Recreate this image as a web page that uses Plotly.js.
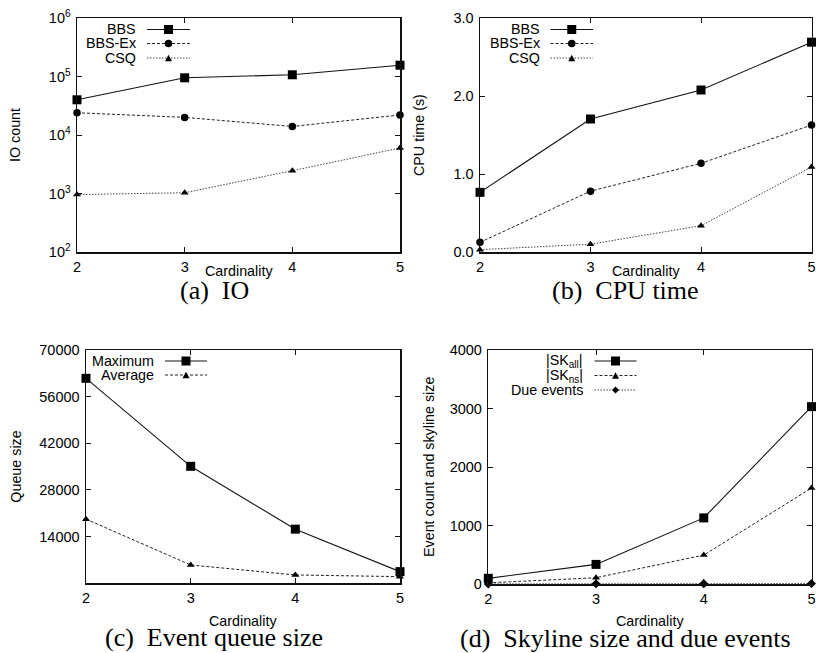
<!DOCTYPE html>
<html>
<head>
<meta charset="utf-8">
<script src="https://cdn.plot.ly/plotly-3.0.1.min.js"></script>
<style>html,body{margin:0;padding:0;background:#fff;}#chart{width:816px;height:653px;}</style>
</head>
<body>
<div id="chart"></div>
<script>
// ---------------- DATA ----------------
const cardinality = [2, 3, 4, 5];
const xTickLabels = ['2', '3', '4', '5'];

// (a) IO count
const ioSeriesNames = ['BBS', 'BBS-Ex', 'CSQ'];
const ioBBS = [40000, 95000, 107000, 156000];
const ioBBSEx = [24000, 20000, 14000, 22000];
const ioCSQ = [960, 1030, 2450, 6000];
const ioTickVals = [100, 1000, 10000, 100000, 1000000];
const ioTickText = ['10<sup>2</sup>', '10<sup>3</sup>', '10<sup>4</sup>', '10<sup>5</sup>', '10<sup>6</sup>'];

// (b) CPU time
const cpuSeriesNames = ['BBS', 'BBS-Ex', 'CSQ'];
const cpuBBS = [0.765, 1.705, 2.077, 2.69];
const cpuBBSEx = [0.124, 0.78, 1.137, 1.628];
const cpuCSQ = [0.03, 0.10, 0.337, 1.09];
const cpuTickVals = [0, 1, 2, 3];
const cpuTickText = ['0.0', '1.0', '2.0', '3.0'];

// (c) Event queue size
const queueSeriesNames = ['Maximum', 'Average'];
const queueMax = [61500, 35100, 16250, 3500];
const queueAvg = [19250, 5500, 2500, 2000];
const queueTickVals = [14000, 28000, 42000, 56000, 70000];

// (d) Skyline size and due events
const skySeriesNames = ['|SK<sub>all</sub>|', '|SK<sub>ns</sub>|', 'Due events'];
const skAll = [97, 335, 1130, 3032];
const skNs = [20, 107, 494, 1640];
const dueEvents = [2, 4, 6, 8];
const skyTickVals = [0, 1000, 2000, 3000, 4000];

const captions = ['(a)\u00A0 IO', '(b)\u00A0 CPU time', '(c)\u00A0 Event queue size', '(d)\u00A0 Skyline size and due events'];
const yTitles = ['IO count', 'CPU time (s)', 'Queue size', 'Event count and skyline size'];
const xTitle = 'Cardinality';

// ---------------- LAYOUT HELPERS ----------------
const W = 816, H = 653;
const px = v => v / W;
const py = v => 1 - v / H;

// plot boxes in pixels [left, right, top, bottom]
const boxes = [
  [77, 400, 18, 252],
  [480, 811.5, 18, 252],
  [86, 400, 350, 583.3],
  [488.3, 811.5, 350, 584]
];

const INK = '#111';
const styles = {
  solid: {dash: 'solid', color: '#111', width: 1.1},
  dashed: {dash: '3px,2px', color: '#222', width: 1},
  dotted: {dash: '1.5px,1.5px', color: '#444', width: 1}
};
const markerDefs = {
  square: {symbol: 'square', size: 9},
  circle: {symbol: 'circle', size: 7.5},
  triangle: {symbol: 'triangle-up', size: 7},
  diamond: {symbol: 'diamond', size: 7}
};

function trace(y, name, style, mk, idx) {
  const ax = idx === 0 ? '' : String(idx + 1);
  return {
    x: cardinality, y: y, name: name, type: 'scatter', mode: 'lines+markers',
    xaxis: 'x' + ax, yaxis: 'y' + ax, cliponaxis: false, showlegend: false,
    line: {dash: styles[style].dash, color: styles[style].color, width: styles[style].width},
    marker: {symbol: markerDefs[mk].symbol, size: markerDefs[mk].size, color: '#000', line: {width: 0}},
    hoverinfo: 'x+y+name'
  };
}

const data = [
  trace(ioBBS, ioSeriesNames[0], 'solid', 'square', 0),
  trace(ioBBSEx, ioSeriesNames[1], 'dashed', 'circle', 0),
  trace(ioCSQ, ioSeriesNames[2], 'dotted', 'triangle', 0),
  trace(cpuBBS, cpuSeriesNames[0], 'solid', 'square', 1),
  trace(cpuBBSEx, cpuSeriesNames[1], 'dashed', 'circle', 1),
  trace(cpuCSQ, cpuSeriesNames[2], 'dotted', 'triangle', 1),
  trace(queueMax, queueSeriesNames[0], 'solid', 'square', 2),
  trace(queueAvg, queueSeriesNames[1], 'dashed', 'triangle', 2),
  trace(skAll, skySeriesNames[0], 'solid', 'square', 3),
  trace(skNs, skySeriesNames[1], 'dashed', 'triangle', 3),
  trace(dueEvents, skySeriesNames[2], 'dotted', 'diamond', 3)
];

const SANS = 'Liberation Sans, Arial, sans-serif';
const tickFont = {family: SANS, size: 14.5, color: '#000'};

function xAxis(i) {
  const b = boxes[i];
  return {
    domain: [px(b[0]), px(b[1])], range: [2, 5], anchor: i === 0 ? 'y' : 'y' + (i + 1),
    tickvals: cardinality, ticktext: xTickLabels, ticks: 'inside', ticklen: 5, tickwidth: 1, tickcolor: INK,
    showline: true, linecolor: INK, linewidth: 1.5, mirror: 'ticks', showgrid: false, zeroline: false,
    tickfont: tickFont, ticklabelstandoff: 1, fixedrange: true
  };
}
function yAxis(i, extra) {
  const b = boxes[i];
  return Object.assign({
    domain: [py(b[3]), py(b[2])], anchor: i === 0 ? 'x' : 'x' + (i + 1),
    ticks: 'inside', ticklen: 5, tickwidth: 1, tickcolor: INK,
    showline: true, linecolor: INK, linewidth: 1.5, mirror: 'ticks', showgrid: false, zeroline: false,
    tickfont: tickFont, ticklabelstandoff: 2, fixedrange: true
  }, extra);
}

const annotations = [];
const shapes = [];
const labelFont = {family: SANS, size: 14.3, color: '#000'};
const captionFont = {family: 'Liberation Serif, Times New Roman, serif', size: 26, color: '#000'};

// axis titles and captions
const yTitleX = [15, 419, 16, 429];
const xTitleY = [271, 271, 620.5, 620.5];
const captionX = [214, 625, 214, 625];
const captionY = [290, 290, 637.5, 638.5];
boxes.forEach((b, i) => {
  const cx = (b[0] + b[1]) / 2;
  annotations.push({xref: 'paper', yref: 'paper', x: px(cx), y: py(xTitleY[i]), text: xTitle, showarrow: false,
    xanchor: 'center', yanchor: 'middle', font: labelFont});
  annotations.push({xref: 'paper', yref: 'paper', x: px(yTitleX[i]), y: py((b[2] + b[3]) / 2), text: yTitles[i],
    textangle: -90, showarrow: false, xanchor: 'center', yanchor: 'middle', font: labelFont});
  annotations.push({xref: 'paper', yref: 'paper', x: px(captionX[i]), y: py(captionY[i]), text: captions[i],
    showarrow: false, xanchor: 'center', yanchor: 'middle', font: captionFont});
});

// gnuplot-style keys: text right-aligned, then a line sample with its marker
function keyEntry(textRight, lineStart, lineEnd, y, text, style, mk) {
  annotations.push({xref: 'paper', yref: 'paper', x: px(textRight), y: py(y), text: text, showarrow: false,
    xanchor: 'right', yanchor: 'middle', font: labelFont});
  const s = styles[style];
  shapes.push({type: 'line', xref: 'paper', yref: 'paper', x0: px(lineStart), x1: px(lineEnd), y0: py(y), y1: py(y),
    line: {color: s.color, width: s.width, dash: s.dash}});
  const cx = (lineStart + lineEnd) / 2;
  const r = markerDefs[mk].size / 2;
  if (mk === 'square') {
    shapes.push({type: 'rect', xref: 'paper', yref: 'paper', x0: px(cx - r), x1: px(cx + r), y0: py(y - r), y1: py(y + r),
      fillcolor: '#000', line: {width: 0}});
  } else if (mk === 'circle') {
    shapes.push({type: 'circle', xref: 'paper', yref: 'paper', x0: px(cx - r), x1: px(cx + r), y0: py(y - r), y1: py(y + r),
      fillcolor: '#000', line: {width: 0}});
  } else if (mk === 'triangle') {
    const h = r * 0.9;
    shapes.push({type: 'path', xref: 'paper', yref: 'paper',
      path: `M ${px(cx - r)} ${py(y + h)} L ${px(cx + r)} ${py(y + h)} L ${px(cx)} ${py(y - h)} Z`,
      fillcolor: '#000', line: {width: 0}});
  } else if (mk === 'diamond') {
    shapes.push({type: 'path', xref: 'paper', yref: 'paper',
      path: `M ${px(cx - r)} ${py(y)} L ${px(cx)} ${py(y - r)} L ${px(cx + r)} ${py(y)} L ${px(cx)} ${py(y + r)} Z`,
      fillcolor: '#000', line: {width: 0}});
  }
}

keyEntry(138, 147, 190, 29.5, ioSeriesNames[0], 'solid', 'square');
keyEntry(138, 147, 190, 43.5, ioSeriesNames[1], 'dashed', 'circle');
keyEntry(138, 147, 190, 58, ioSeriesNames[2], 'dotted', 'triangle');
keyEntry(541.5, 550.5, 593, 29.5, cpuSeriesNames[0], 'solid', 'square');
keyEntry(541.5, 550.5, 593, 43.5, cpuSeriesNames[1], 'dashed', 'circle');
keyEntry(541.5, 550.5, 593, 58, cpuSeriesNames[2], 'dotted', 'triangle');
keyEntry(155.5, 165, 207, 361, queueSeriesNames[0], 'solid', 'square');
keyEntry(155.5, 165, 207, 375, queueSeriesNames[1], 'dashed', 'triangle');
keyEntry(585, 594.5, 636.5, 361, skySeriesNames[0], 'solid', 'square');
keyEntry(585, 594.5, 636.5, 375.5, skySeriesNames[1], 'dashed', 'triangle');
keyEntry(585, 594.5, 636.5, 390, skySeriesNames[2], 'dotted', 'diamond');

const layout = {
  width: W, height: H, margin: {l: 0, r: 0, t: 0, b: 0},
  paper_bgcolor: '#fff', plot_bgcolor: '#fff', showlegend: false,
  font: {family: SANS, color: '#000'},
  xaxis: xAxis(0), xaxis2: xAxis(1), xaxis3: xAxis(2), xaxis4: xAxis(3),
  yaxis: yAxis(0, {type: 'log', range: [2, 6], tickvals: ioTickVals, ticktext: ioTickText}),
  yaxis2: yAxis(1, {range: [0, 3], tickvals: cpuTickVals, ticktext: cpuTickText}),
  yaxis3: yAxis(2, {range: [0, 70000], tickvals: queueTickVals, ticktext: queueTickVals.map(String)}),
  yaxis4: yAxis(3, {range: [0, 4000], tickvals: skyTickVals, ticktext: skyTickVals.map(String)}),
  annotations: annotations, shapes: shapes
};

Plotly.newPlot('chart', data, layout, {displayModeBar: false, staticPlot: true});
</script>
</body>
</html>
